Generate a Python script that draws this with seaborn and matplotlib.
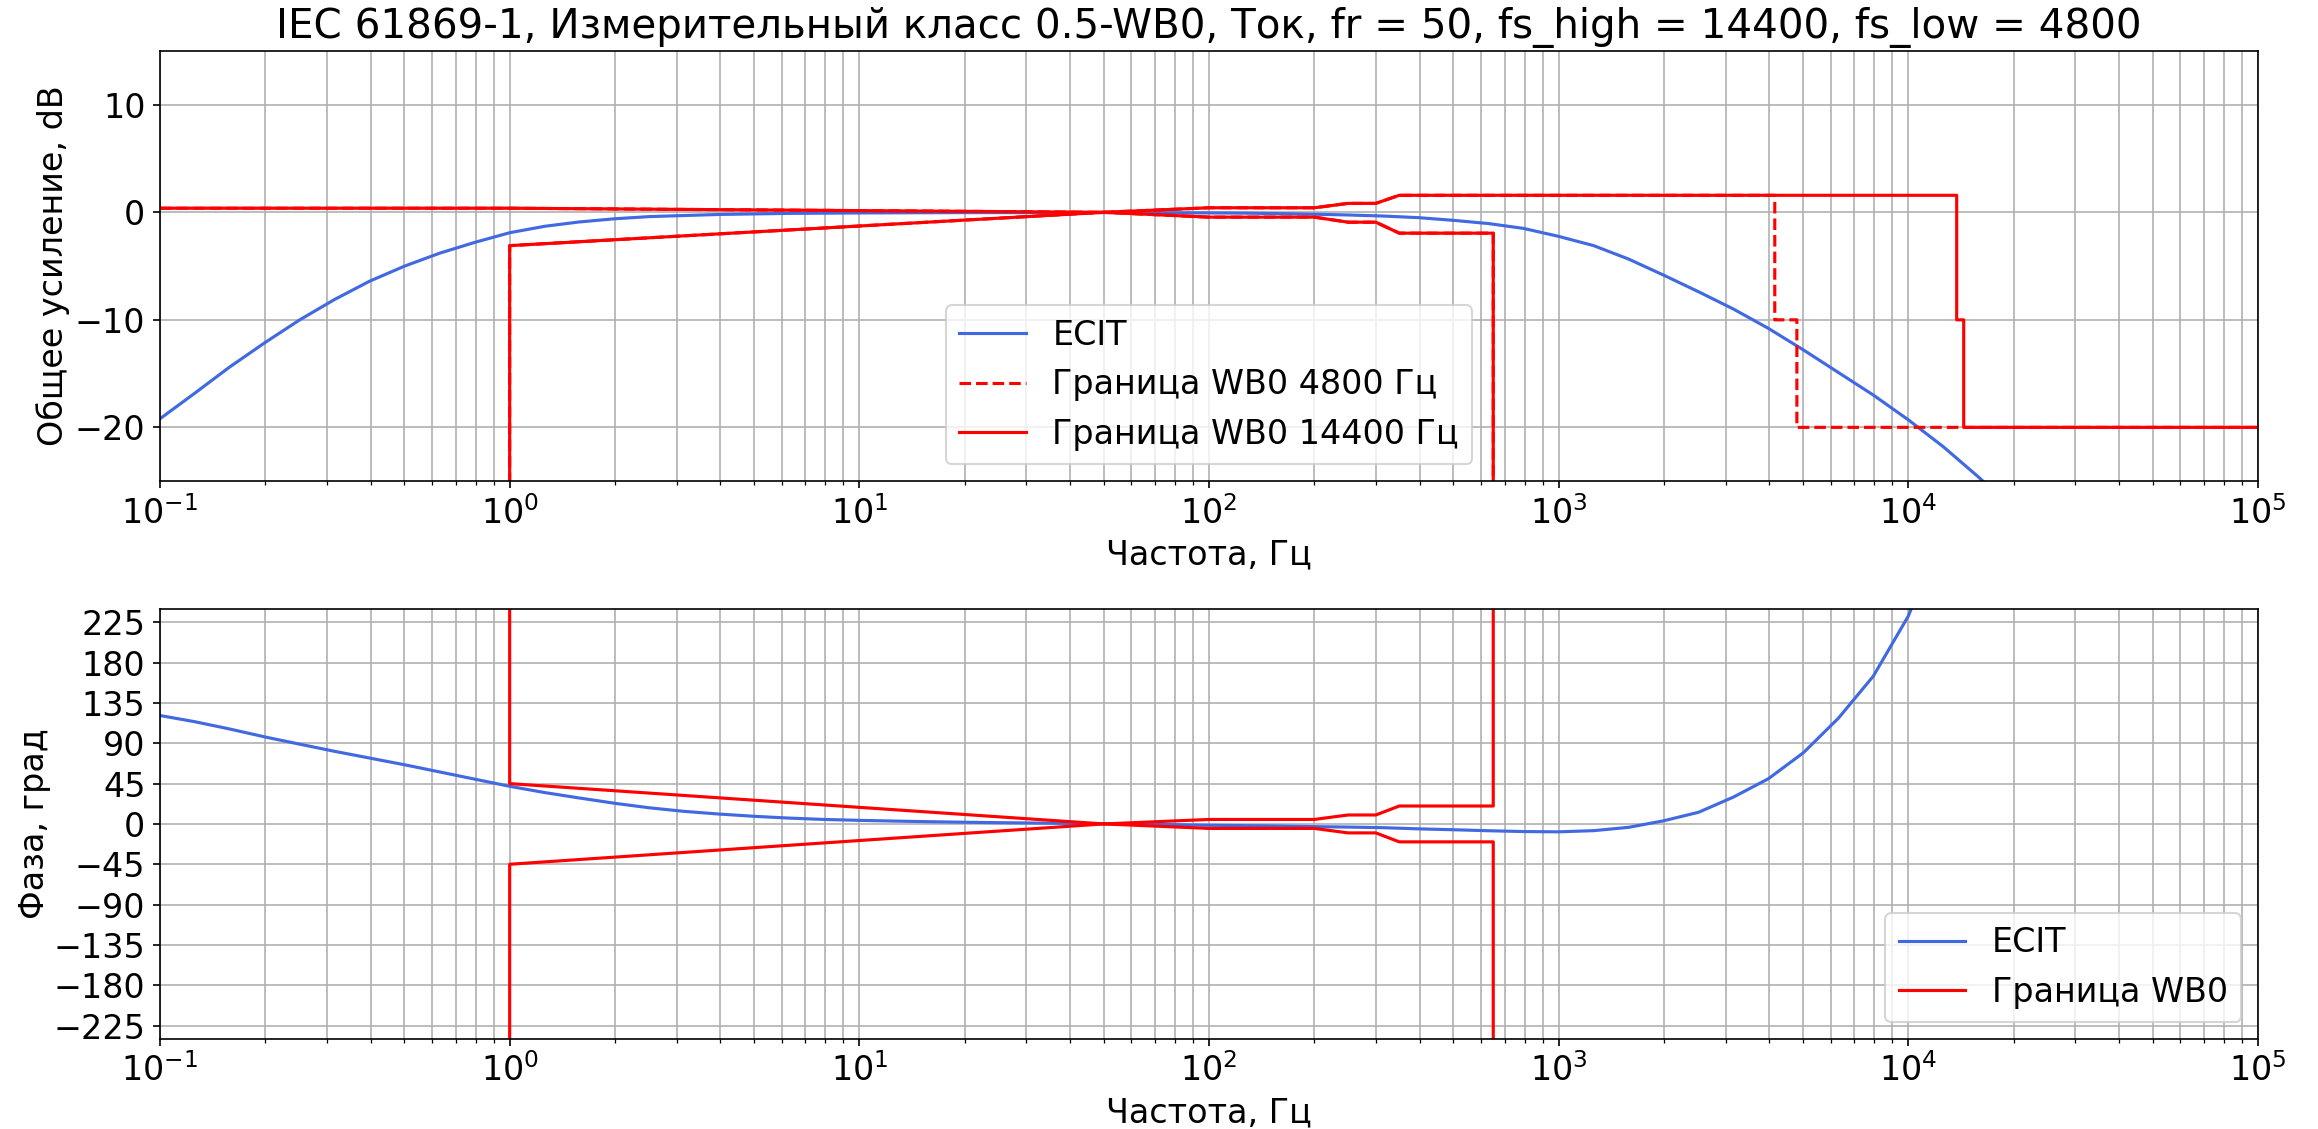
import matplotlib
matplotlib.use("Agg")
import matplotlib.pyplot as plt
import seaborn as sns
import pandas as pd

# ---------------- data ----------------
freq = [0.1, 0.126, 0.158, 0.2, 0.251, 0.316, 0.398, 0.501, 0.631, 0.794,
        1, 1.26, 1.58, 2, 2.51, 3.16, 3.98, 5.01, 6.31, 7.94,
        10, 12.6, 15.8, 20, 25.1, 31.6, 39.8, 50.1, 63.1, 79.4,
        100, 126, 158, 200, 251, 316, 398, 501, 631, 794,
        1000, 1259, 1585, 1995, 2512, 3162, 3981, 5012, 6310, 7943,
        10000, 12589, 15849, 19953]

gain_db = [-19.2, -16.8, -14.4, -12.1, -10.0, -8.1, -6.4, -5.0, -3.8, -2.8,
           -1.9, -1.3, -0.9, -0.6, -0.4, -0.3, -0.2, -0.15, -0.1, -0.08,
           -0.06, -0.05, -0.04, -0.03, -0.03, -0.03, -0.03, -0.03, -0.04, -0.05,
           -0.06, -0.08, -0.12, -0.18, -0.25, -0.35, -0.5, -0.75, -1.05, -1.5,
           -2.24, -3.1, -4.35, -5.84, -7.39, -9.0, -10.8, -12.8, -14.9, -17.0,
           -19.3, -21.8, -24.6, -27.6]

phase_deg = [121, 114, 106, 97, 89, 81, 73.5, 66, 58, 50,
             42, 35, 29, 23, 18, 14, 11, 8.5, 6.5, 5,
             4, 3.2, 2.5, 1.9, 1.4, 1.0, 0.6, 0.2, -0.2, -0.8,
             -1.5, -1.9, -2.3, -3, -3.5, -4.2, -5.5, -6.5, -7.6, -8.5,
             -8.8, -7.5, -3.8, 3.5, 13, 30, 50.5, 79.5, 118, 165,
             232, 330, 460, 650]

# gain masks
mask_up_f_4800 = [0.1, 1, 50, 100, 200, 250, 300, 350, 4150, 4150, 4800, 4800, 100000]
mask_up_f_14400 = [0.1, 1, 50, 100, 200, 250, 300, 350, 13750, 13750, 14400, 14400, 100000]
mask_up_g = [0.38, 0.38, 0, 0.42, 0.42, 0.83, 0.83, 1.58, 1.58, -10, -10, -20, -20]
mask_lo_f = [1, 1, 50, 100, 200, 250, 300, 350, 650, 650]
mask_lo_g = [-1000, -3.1, 0, -0.45, -0.45, -0.92, -0.92, -1.94, -1.94, -1000]

# phase mask
ph_mask_f = [1, 1, 50, 100, 200, 250, 300, 350, 650, 650]
ph_mask_up = [1000, 45, 0, 5, 5, 10, 10, 20, 20, 1000]
ph_mask_lo = [-1000, -45, 0, -5, -5, -10, -10, -20, -20, -1000]

title = "IEC 61869-1, Измерительный класс 0.5-WB0, Ток, fr = 50, fs_high = 14400, fs_low = 4800"

# ---------------- plot ----------------
plt.rcParams["font.family"] = ["DejaVu Sans"]
plt.rcParams["font.size"] = 16

BLUE = "royalblue"
RED = "red"

fig, (ax1, ax2) = plt.subplots(2, 1, figsize=(2318 / 150, 1129 / 150), dpi=150)
fig.subplots_adjust(left=160 / 2318, right=2258 / 2318, top=1 - 51 / 1129,
                    bottom=1 - 1039 / 1129, hspace=0.297)

kw = dict(sort=False, estimator=None, linewidth=1.5)

sns.lineplot(x=freq, y=gain_db, ax=ax1, color=BLUE, label="ECIT", **kw)
sns.lineplot(x=mask_up_f_4800, y=mask_up_g, ax=ax1, color=RED, linestyle="--",
             label="Граница WB0 4800 Гц", **kw)
sns.lineplot(x=mask_up_f_14400, y=mask_up_g, ax=ax1, color=RED,
             label="Граница WB0 14400 Гц", **kw)
sns.lineplot(x=mask_lo_f, y=mask_lo_g, ax=ax1, color=RED, linestyle="--", **kw)
sns.lineplot(x=mask_lo_f, y=mask_lo_g, ax=ax1, color=RED, **kw)

ax1.set_xscale("log")
ax1.set_xlim(0.1, 1e5)
ax1.set_ylim(-25, 15)
ax1.set_yticks([-20, -10, 0, 10])
ax1.grid(True, which="both")
ax1.set_xlabel("Частота, Гц")
ax1.set_ylabel("Общее усиление, dB")
ax1.yaxis.set_label_coords(-0.043, 0.5)
ax1.set_title(title, fontsize=19.4)
h, l = ax1.get_legend_handles_labels()
ax1.legend(h[:3], l[:3], loc="lower center")

sns.lineplot(x=freq, y=phase_deg, ax=ax2, color=BLUE, label="ECIT", **kw)
sns.lineplot(x=ph_mask_f, y=ph_mask_up, ax=ax2, color=RED, label="Граница WB0", **kw)
sns.lineplot(x=ph_mask_f, y=ph_mask_lo, ax=ax2, color=RED, **kw)

ax2.set_xscale("log")
ax2.set_xlim(0.1, 1e5)
ax2.set_ylim(-240, 240)
ax2.set_yticks(list(range(-225, 226, 45)))
ax2.grid(True, which="both")
ax2.set_xlabel("Частота, Гц")
ax2.set_ylabel("Фаза, град")
ax2.yaxis.set_label_coords(-0.052, 0.5)
h, l = ax2.get_legend_handles_labels()
ax2.legend(h[:2], l[:2], loc="lower right")

fig.savefig("out.png", dpi=150)
